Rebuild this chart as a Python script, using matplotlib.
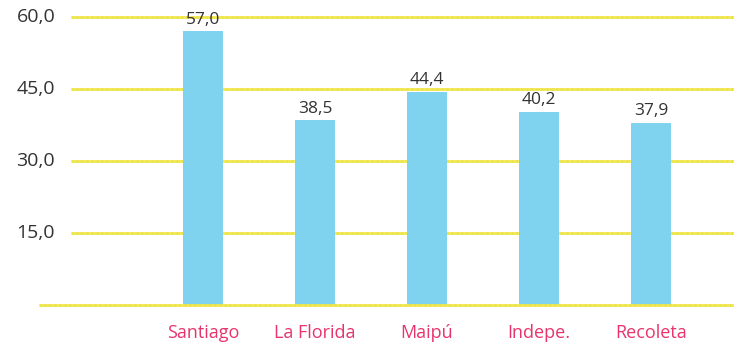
import numpy as np
import matplotlib
matplotlib.use("Agg")
from matplotlib import pyplot as plt

comunas = ["Santiago", "La Florida", "Maipú", "Indepe.", "Recoleta"]
valores = [57.0, 38.5, 44.4, 40.2, 37.9]
yticks = [15, 30, 45, 60]

plt.rcParams['font.family'] = ['Open Sans', 'DejaVu Sans']

fig = plt.figure(figsize=(7.34, 3.43), dpi=100)
# axes go from the baseline (y=305px) up to the top edge
ax = fig.add_axes([39 / 734, 38 / 343, 695 / 734, 305 / 343])

x = np.arange(len(comunas))
ax.set_xlim(-1.464, 4.741)
ax.set_ylim(0, 63.54)

amarillo = "#F1E752"
# grid lines start a bit right of the baseline; light stipple on top
for v in yticks:
	ax.plot([-1.179, 4.741], [v, v], color=amarillo, lw=2.0, zorder=1,
			solid_capstyle="butt")
	ax.plot([-1.179, 4.741], [v, v], color="#E9DC2E", lw=2.0, zorder=1,
			ls=(0, (0.6, 1.2)), alpha=0.5)
ax.plot([-1.464, 4.741], [0, 0], color=amarillo, lw=2.0, zorder=3,
		clip_on=False, solid_capstyle="butt")
ax.plot([-1.464, 4.741], [0, 0], color="#E9DC2E", lw=2.0, zorder=3,
		ls=(0, (0.6, 1.2)), alpha=0.5, clip_on=False)

barras = ax.bar(x, valores, width=40 / 112, color="#7FD3EE", zorder=2)

for b, v in zip(barras, valores):
	ax.annotate(f"{v:.1f}".replace(".", ","), (b.get_x() + b.get_width() / 2, v),
				xytext=(0, 5.5), textcoords="offset points", ha="center",
				va="baseline", fontsize=12.5, color="#333333", zorder=4)

# y labels, right aligned next to the grid
for v in yticks:
	ax.text(-1.32, v, f"{v:.1f}".replace(".", ","), ha="right", va="center",
			fontsize=14, color="#333333", clip_on=False)

for xi, c in zip(x, comunas):
	ax.text(xi, -5.9, c, ha="center", va="center", fontsize=13,
			color="#E8336D", clip_on=False)

ax.set_axis_off()
fig.savefig("out.png", dpi=100)
